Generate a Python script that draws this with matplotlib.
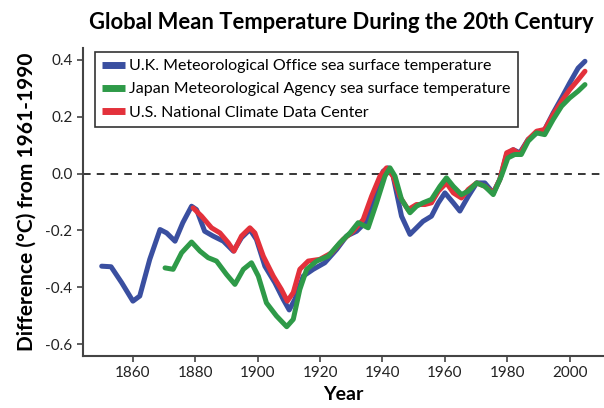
import matplotlib
matplotlib.use("Agg")
from matplotlib import pyplot as plt

# dados (ano, diferenca em C)
anos_uk = [1850, 1853, 1856.4, 1860, 1862.2, 1865.4, 1868.7, 1870.8, 1873.5, 1876, 1878.8, 1880.4,
           1883, 1885.7, 1889, 1892.2, 1894.8, 1897.5, 1899.6, 1902.3, 1905.5, 1908.2, 1910.1, 1911.9,
           1914.6, 1917.8, 1921.5, 1925.3, 1928.5, 1931.7, 1934.9, 1937.6, 1940.2, 1941.8, 1943.4,
           1946.1, 1948.8, 1950.9, 1953, 1955.7, 1957.9, 1960, 1962.7, 1964.8, 1967.5, 1970.2, 1972.8,
           1975.5, 1977.6, 1979.8, 1981.9, 1984, 1986.7, 1989.4, 1992, 1994.7, 1997.4, 2000, 2002.7, 2004.9]
temp_uk = [-0.326, -0.328, -0.384, -0.449, -0.431, -0.302, -0.197, -0.209, -0.238, -0.173, -0.115, -0.127,
           -0.203, -0.220, -0.238, -0.273, -0.226, -0.197, -0.232, -0.326, -0.384, -0.443, -0.480, -0.443,
           -0.361, -0.337, -0.314, -0.267, -0.220, -0.203, -0.168, -0.080, 0.008, 0.020, -0.009,
           -0.150, -0.214, -0.191, -0.168, -0.150, -0.103, -0.068, -0.103, -0.132, -0.080, -0.033, -0.033,
           -0.068, -0.021, 0.067, 0.084, 0.073, 0.120, 0.143, 0.155, 0.213, 0.266, 0.319, 0.371, 0.395]

anos_jp = [1870.3, 1872.9, 1875.6, 1878.8, 1881.5, 1884.1, 1886.8, 1890, 1892.7, 1895.4, 1898, 1900.2,
           1902.8, 1906, 1909.3, 1911.4, 1913.5, 1915.7, 1918.9, 1922.6, 1926.3, 1929.6, 1932.2, 1935.4,
           1938.1, 1940.8, 1942.4, 1944, 1946.1, 1948.8, 1950.9, 1953, 1955.7, 1958.4, 1960.5, 1962.7,
           1965.3, 1967.5, 1970.2, 1972.8, 1975.5, 1978.1, 1980.2, 1982.4, 1984.5, 1986.7, 1989.4, 1992,
           1994.7, 1997.4, 2000, 2002.7, 2004.9]
temp_jp = [-0.332, -0.337, -0.279, -0.241, -0.273, -0.296, -0.308, -0.355, -0.390, -0.337, -0.314, -0.361,
           -0.455, -0.501, -0.539, -0.513, -0.408, -0.337, -0.308, -0.291, -0.244, -0.209, -0.173, -0.191,
           -0.103, -0.009, 0.020, -0.009, -0.091, -0.138, -0.115, -0.103, -0.091, -0.045, -0.015, -0.045,
           -0.074, -0.062, -0.033, -0.045, -0.074, -0.009, 0.055, 0.067, 0.067, 0.114, 0.143, 0.137,
           0.190, 0.237, 0.266, 0.290, 0.313]

anos_us = [1879.3, 1882, 1885.2, 1887.9, 1890.6, 1892.4, 1894.8, 1897.5, 1899.1, 1901.8, 1905, 1907.6,
           1909.5, 1911.4, 1913.5, 1916.2, 1919.9, 1923.7, 1927.4, 1930.6, 1933.8, 1936.5, 1939.2, 1941.3,
           1943.4, 1945.5, 1948.2, 1950.9, 1953.6, 1955.7, 1957.9, 1960.5, 1962.7, 1965.3, 1967.5, 1970.2,
           1972.8, 1975.5, 1977.6, 1979.8, 1981.9, 1984, 1986.7, 1989.4, 1992, 1994.7, 1997.4, 2000, 2002.7, 2004.9]
temp_us = [-0.121, -0.150, -0.191, -0.209, -0.244, -0.273, -0.220, -0.191, -0.209, -0.291, -0.361, -0.408,
           -0.449, -0.419, -0.337, -0.308, -0.302, -0.279, -0.232, -0.203, -0.162, -0.080, -0.009, 0.020,
           -0.009, -0.080, -0.127, -0.109, -0.109, -0.103, -0.062, -0.033, -0.068, -0.086, -0.056, -0.033,
           -0.045, -0.068, -0.021, 0.073, 0.084, 0.067, 0.120, 0.149, 0.155, 0.208, 0.254, 0.295, 0.330, 0.360]

nomes = ["U.K. Meteorological Office sea surface temperature",
         "Japan Meteorological Agency sea surface temperature",
         "U.S. National Climate Data Center"]
cores = ["#3a4fa0", "#2e9a48", "#e3313b"]

plt.rcParams['font.family'] = ['Lato', 'DejaVu Sans']

fig = plt.figure(figsize=(6.04, 4.08), dpi=100)
ax = fig.add_axes([0.1374, 0.1275, 0.8626, 0.755])

ax.axhline(0, color="black", lw=1.1, ls=(0, (5, 4)), zorder=1)

estilo = dict(lw=3.6, solid_joinstyle="round", solid_capstyle="round")
l1, = ax.plot(anos_uk, temp_uk, color=cores[0], zorder=2, **estilo)
l3, = ax.plot(anos_us, temp_us, color=cores[2], zorder=3, **estilo)
l2, = ax.plot(anos_jp, temp_jp, color=cores[1], zorder=4, **estilo)

leg = ax.legend([l1, l2, l3], nomes, loc="upper left", bbox_to_anchor=(0.023, 0.987),
                fontsize=11.5, frameon=True, fancybox=False, handlelength=1.4, handleheight=0.6,
                handletextpad=0.3, labelspacing=0.58, borderpad=0.45, borderaxespad=0)
leg.get_frame().set_edgecolor("black")
leg.get_frame().set_linewidth(1.2)
for h in leg.get_lines():
    h.set_linewidth(5)
    h.set_solid_capstyle("butt")

ax.set_xlim(1844, 2011)
ax.set_ylim(-0.642, 0.442)
ax.set_xticks([1860, 1880, 1900, 1920, 1940, 1960, 1980, 2000])
ax.set_yticks([-0.6, -0.4, -0.2, 0.0, 0.2, 0.4])
ax.set_yticklabels(["-0.6", "-0.4", "-0.2", "0.0", "0.2", "0.4"])
ax.tick_params(labelsize=11, length=4, width=1.2, color="#444444", labelcolor="#222222")

ax.spines["top"].set_visible(False)
ax.spines["right"].set_visible(False)
for s in ["left", "bottom"]:
    ax.spines[s].set_color("#444444")
    ax.spines[s].set_linewidth(1.5)

ax.set_xlabel("Year", fontsize=14, fontweight="bold", labelpad=4)
ax.set_ylabel("Difference (\u00b0C) from 1961-1990", fontsize=15, fontweight="bold", labelpad=6)
fig.text(0.565, 0.945, "Global Mean Temperature During the 20th Century", ha="center", va="center",
         fontsize=15.8, fontweight="bold")

fig.savefig("out.png", dpi=100)
